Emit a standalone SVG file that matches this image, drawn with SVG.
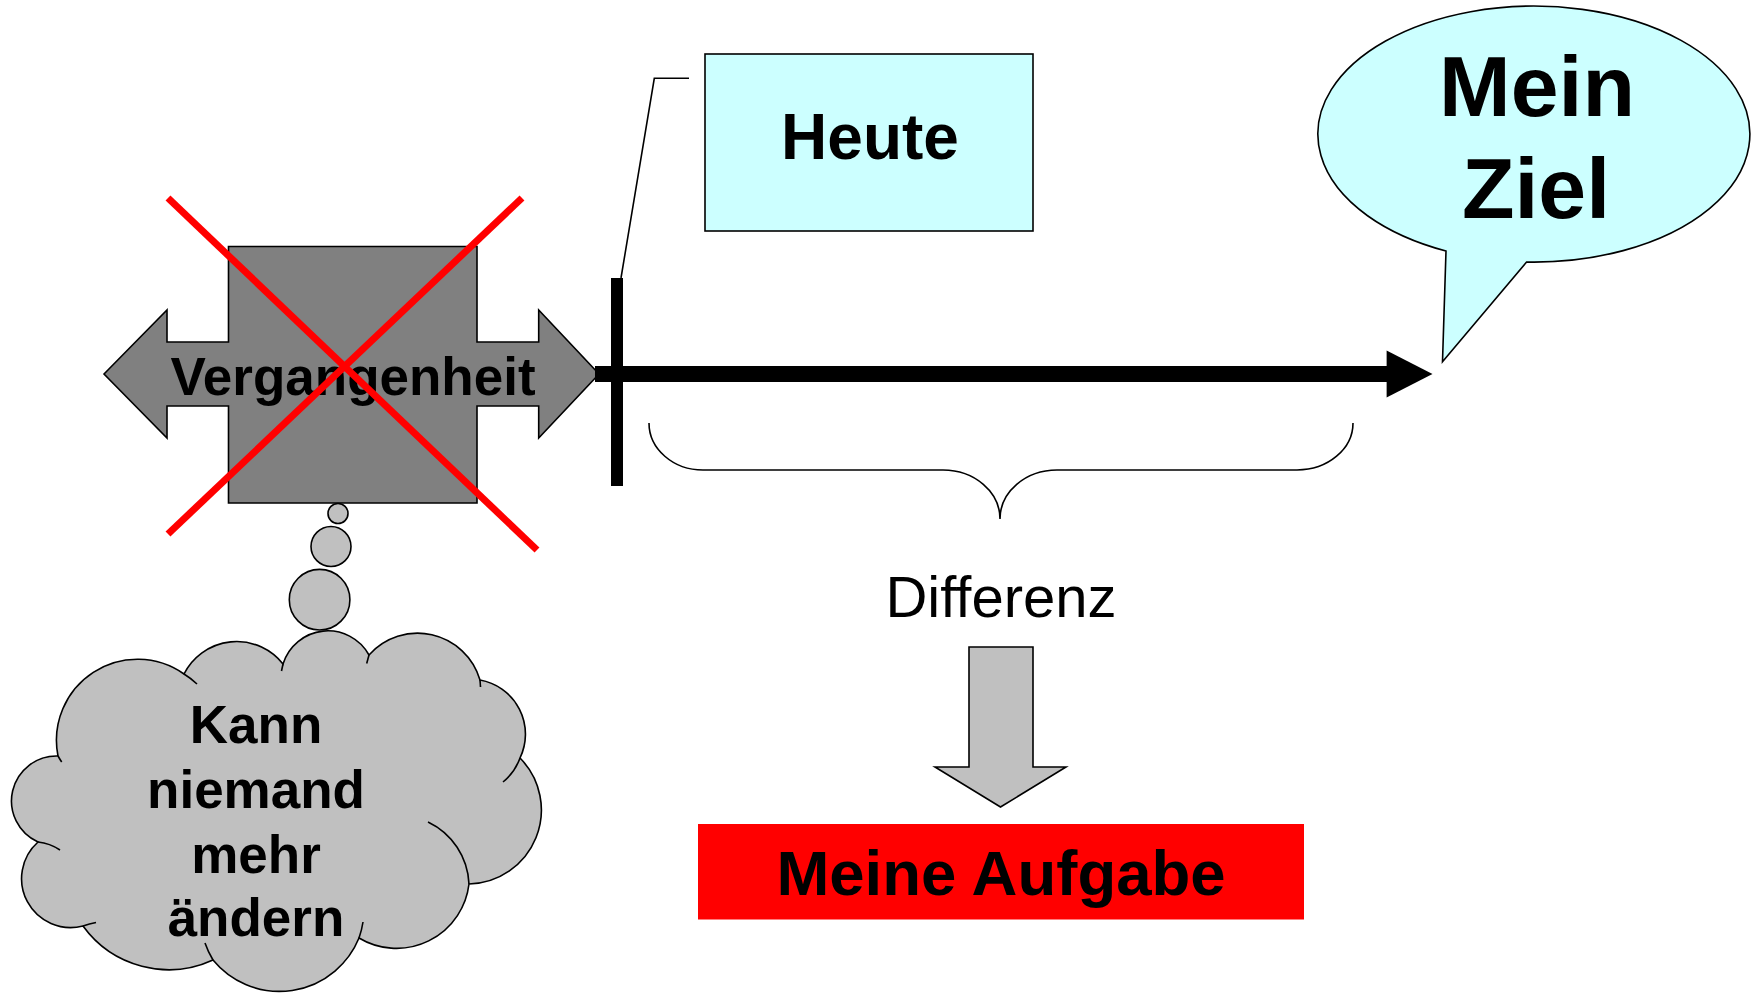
<svg xmlns="http://www.w3.org/2000/svg" width="1756" height="993" viewBox="0 0 1756 993">
  <style>
    .t { font-family: "Liberation Sans", Arial, sans-serif; fill: #000; text-anchor: middle; }
    .b { font-weight: bold; }
    .shape { stroke: #000; stroke-width: 1.6; stroke-linejoin: miter; }
    .thin { fill: none; stroke: #000; stroke-width: 1.6; }
    .cross { stroke: #FF0000; stroke-width: 7; fill: none; }
  </style>
  <rect width="1756" height="993" fill="#FFFFFF"/>

  <!-- Past: four-way block arrow, crossed out -->
  <g id="vergangenheit">
    <polygon class="shape" fill="#808080" points="104,374 167,310 167,342 228.5,342 228.5,246.5 477,246.5 477,342 538.7,342 538.7,310 599,374 538.7,438 538.7,406 477,406 477,503 228.5,503 228.5,406 167,406 167,438"/>
    <text class="t b" x="353" y="395" font-size="53">Vergangenheit</text>
    <line class="cross" x1="168" y1="198" x2="537" y2="550"/>
    <line class="cross" x1="522" y1="198" x2="168" y2="534"/>
  </g>

  <!-- Thought cloud -->
  <g id="gedanke">
    <circle class="shape" fill="#C0C0C0" cx="338" cy="513.5" r="10"/>
    <circle class="shape" fill="#C0C0C0" cx="331" cy="546.5" r="20"/>
    <circle class="shape" fill="#C0C0C0" cx="319.6" cy="599.7" r="30.3"/>
    <path class="shape" fill="#C0C0C0" d="M 38 842 A 45 45 0 0 1 58 756 A 81 81 0 0 1 184 674 A 59 59 0 0 1 283 664 A 47 47 0 0 1 369 655 A 65 65 0 0 1 480 680 A 55 55 0 0 1 520 758 A 74 74 0 0 1 469 884 A 73 73 0 0 1 359 938 A 86 86 0 0 1 213 960 A 106 106 0 0 1 83 926 A 49 49 0 0 1 38 842 Z"/>
    <!-- inner arc segments of the cloud -->
    <path class="thin" d="M 61.7 762 A 81 81 0 0 1 58 756"/>
    <path class="thin" d="M 184 674 A 81 81 0 0 1 197 684"/>
    <path class="thin" d="M 281.5 671 L 283 664"/>
    <path class="thin" d="M 366.7 663.5 L 369 655"/>
    <path class="thin" d="M 480 680 L 480.5 687"/>
    <path class="thin" d="M 520 758 A 55 55 0 0 1 503 782"/>
    <path class="thin" d="M 428 822 A 72 72 0 0 1 469 884"/>
    <path class="thin" d="M 363 922 A 86 86 0 0 1 359 938"/>
    <path class="thin" d="M 213 960 A 86 86 0 0 1 205 943"/>
    <path class="thin" d="M 83 926 A 106 106 0 0 1 96 922.5"/>
    <path class="thin" d="M 38 842 A 49 49 0 0 1 60 850"/>
    <text class="t b" font-size="53" x="256" y="743">Kann</text>
    <text class="t b" font-size="53" x="256" y="808">niemand</text>
    <text class="t b" font-size="53" x="256" y="873">mehr</text>
    <text class="t b" font-size="53" x="256" y="936">ändern</text>
  </g>

  <!-- Today label -->
  <g id="heute">
    <rect class="shape" fill="#CCFFFF" x="705" y="54" width="328" height="177"/>
    <text class="t b" x="870" y="159" font-size="64">Heute</text>
  </g>

  <!-- Goal speech bubble -->
  <g id="ziel">
    <path class="shape" fill="#CCFFFF" d="M 1446 251 L 1442.5 361.8 L 1526.6 262 A 216 128 0 1 0 1446 251 Z"/>
    <text class="t b" x="1537" y="116" font-size="86">Mein</text>
    <text class="t b" x="1536" y="218" font-size="86">Ziel</text>
  </g>

  <!-- Difference label -->
  <g id="differenz">
    <text class="t" x="1001" y="617" font-size="58">Differenz</text>
  </g>

  <!-- Task box -->
  <g id="aufgabe">
    <rect fill="#FF0000" x="698" y="824" width="606" height="95.5"/>
    <text class="t b" x="1001" y="894.5" font-size="63.5">Meine Aufgabe</text>
  </g>

  <!-- Connectors -->
  <g id="verbindungen">
    <!-- time axis -->
    <rect fill="#000" x="595" y="366" width="792" height="16"/>
    <polygon fill="#000" points="1386.6,350.6 1432.5,374 1386.6,397.6"/>
    <!-- today marker -->
    <rect fill="#000" x="611" y="278" width="12" height="208"/>
    <polyline class="thin" points="621,278 654.3,78.3 689,78.3"/>
    <!-- brace spanning today to goal -->
    <path class="thin" d="M 649 423 A 54 47 0 0 0 703 470 L 943 470 A 57 49 0 0 1 1000 519 A 57 49 0 0 1 1057 470 L 1297 470 A 56 47 0 0 0 1353 423"/>
    <!-- down block arrow -->
    <polygon class="shape" fill="#C0C0C0" points="969,647 1033,647 1033,767 1066,767 1000.5,807 935,767 969,767"/>
  </g>
</svg>
